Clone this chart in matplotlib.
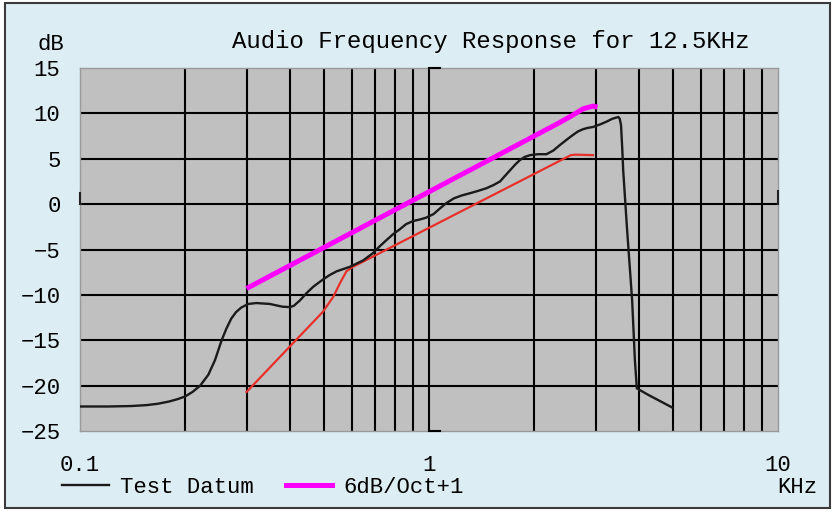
import matplotlib
matplotlib.use("Agg")
import matplotlib.pyplot as plt
from matplotlib.patches import Rectangle
from matplotlib.lines import Line2D
import matplotlib.transforms as mtransforms

plt.rcParams['font.family'] = ['Liberation Mono', 'DejaVu Sans Mono']

# ---- data (frequency in kHz, level in dB) ----
test_freq = [0.1, 0.12, 0.14, 0.155, 0.167, 0.18, 0.19, 0.2, 0.21, 0.221, 0.2332, 0.2436,
             0.2546, 0.2628, 0.2714, 0.28, 0.2897, 0.3035, 0.32, 0.35, 0.38, 0.40, 0.41,
             0.427, 0.446, 0.466, 0.497, 0.52, 0.544, 0.594, 0.648, 0.691, 0.72, 0.756,
             0.79, 0.826, 0.86, 0.901, 0.94, 0.98, 1.03, 1.076, 1.12, 1.179, 1.24, 1.31,
             1.38, 1.46, 1.53, 1.598, 1.65, 1.71, 1.77, 1.823, 1.88, 1.95, 2.05, 2.17,
             2.27, 2.37, 2.48, 2.58, 2.67, 2.76, 2.85, 2.95, 3.1, 3.23, 3.35, 3.45,
             3.49, 3.52, 3.55, 3.58, 3.6, 3.69, 3.82, 3.89, 3.94, 4.24, 4.97]
test_db = [-22.3, -22.3, -22.25, -22.15, -22.0, -21.75, -21.5, -21.2, -20.7, -20.0, -18.8, -17.2,
           -15.0, -13.7, -12.6, -11.9, -11.4, -11.0, -10.9, -11.0, -11.3, -11.35, -11.2,
           -10.6, -9.8, -9.1, -8.3, -7.8, -7.4, -6.9, -6.2, -5.4, -4.7, -3.95,
           -3.3, -2.75, -2.2, -1.86, -1.7, -1.5, -1.1, -0.46, 0.1, 0.64, 0.95, 1.2,
           1.45, 1.75, 2.1, 2.5, 3.1, 3.76, 4.4, 4.86, 5.2, 5.4, 5.5, 5.5,
           5.9, 6.5, 7.1, 7.6, 8.0, 8.25, 8.4, 8.5, 8.8, 9.1, 9.4, 9.55,
           9.6, 9.4, 8.7, 6.0, 3.8, -2.5, -10.6, -17.2, -20.3, -21.0, -22.4]

ref_freq = [0.3, 0.497, 0.532, 0.556, 0.58, 0.606, 2.55, 2.62, 2.95]
ref_db = [-20.7, -11.85, -10.2, -8.7, -7.4, -6.9, 5.4, 5.45, 5.4]

slope_freq = [0.3, 2.37, 2.58, 2.76, 2.95, 3.04]
slope_db = [-9.3, 9.0, 9.8, 10.5, 10.8, 10.7]

y_ticks = [-25, -20, -15, -10, -5, 0, 5, 10, 15]
y_labels = ['\u221225', '\u221220', '\u221215', '\u221210', '\u22125', '0', '5', '10', '15']
x_ticks = [0.1, 1, 10]
x_labels = ['0.1', '1', '10']
grid_x = [0.2, 0.3, 0.4, 0.5, 0.6, 0.7, 0.8, 0.9, 1, 2, 3, 4, 5, 6, 7, 8, 9]
grid_y = [-20, -15, -10, -5, 0, 5, 10]

BG = '#DDEDF4'
PLOT_BG = '#C0C0C0'

fig = plt.figure(figsize=(8.4, 5.11), dpi=100, facecolor='white')
fig.patches.append(Rectangle((5 / 840, 3 / 511), 825 / 840, 505 / 511,
                             transform=fig.transFigure, facecolor=BG,
                             edgecolor='#3a3a3a', lw=1.5, zorder=-10))

ax = fig.add_axes([80 / 840, 1 - 431 / 511, 698 / 840, 363 / 511])
ax.set_facecolor(PLOT_BG)
ax.set_xscale('log')
ax.set_xlim(0.1, 10)
ax.set_ylim(-25, 15)
ax.xaxis.remove_overlapping_locs = False
ax.yaxis.remove_overlapping_locs = False

ax.set_xticks(x_ticks)
ax.set_xticklabels(x_labels)
ax.set_xticks(grid_x, minor=True)
ax.set_xticklabels([], minor=True)
ax.set_yticks(y_ticks)
ax.set_yticklabels(y_labels)
ax.set_yticks(grid_y, minor=True)
ax.set_yticklabels([], minor=True)
ax.tick_params(which='both', length=0)
ax.tick_params(axis='x', which='major', pad=17, labelsize=16)
ax.tick_params(axis='y', which='major', pad=14, labelsize=16)
ax.grid(False, which='major')
ax.grid(True, which='minor', color='black', lw=1.5)
ax.set_axisbelow(True)
for s in ax.spines.values():
    s.set_color('#9a9a9a')
    s.set_linewidth(1.0)

# bracket decorations at 1 kHz and small marks at the 0 dB edges
trans = mtransforms.blended_transform_factory(ax.transData, ax.transAxes)
ax.plot([1, 1.075], [1, 1], color='black', lw=1.5, transform=trans, clip_on=False, zorder=3)
ax.plot([1, 1.075], [0, 0], color='black', lw=1.5, transform=trans, clip_on=False, zorder=3)
ax.plot([0.1, 0.1], [0, 1.2], color='#222222', lw=1.5, clip_on=False, zorder=3)
ax.plot([10, 10], [0, 1.5], color='#222222', lw=1.5, clip_on=False, zorder=3)

ax.plot(ref_freq, ref_db, color='#E8302A', lw=1.6, zorder=4)
ax.plot(test_freq, test_db, color='#1a1a1a', lw=1.7, zorder=5, label='Test Datum')
ax.plot(slope_freq, slope_db, color='#FF00FF', lw=3.6, zorder=6, label='6dB/Oct+1',
        solid_capstyle='butt')

ax.text(0.589, 1.074, 'Audio Frequency Response for 12.5KHz', transform=ax.transAxes,
        ha='center', va='center', fontsize=17.3)
ax.text(-0.0415, 1.066, 'dB', transform=ax.transAxes, ha='center', va='center', fontsize=16)
ax.text(1.027, -0.157, 'KHz', transform=ax.transAxes, ha='center', va='center', fontsize=16)

handles = [Line2D([], [], color='#1a1a1a', lw=1.7), Line2D([], [], color='#FF00FF', lw=3.6)]
fig.legend(handles, ['Test Datum', '6dB/Oct+1'], loc='center left',
           bbox_to_anchor=(62 / 840, 1 - 487 / 511), ncol=2, frameon=False,
           fontsize=16, handlelength=2.1, handletextpad=0.5, columnspacing=1.45,
           borderpad=0, borderaxespad=0)

fig.savefig('out.png', dpi=100, facecolor='white')
